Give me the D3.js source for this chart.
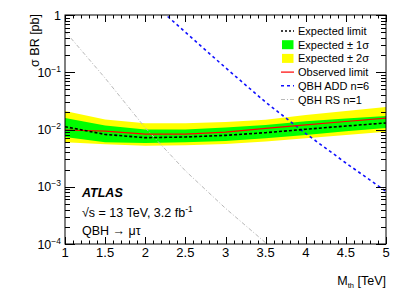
<!DOCTYPE html>
<html lang="en">
<head>
  <meta charset="UTF-8">
  <title>QBH mu tau limits</title>
  <style>
    body {
      margin: 0;
      background: #fff;
      font-family: "Liberation Sans", Arial, Helvetica, sans-serif;
    }
    svg text {
      fill: #000;
    }
  </style>
</head>
<body>
  <svg id="chart" width="407" height="292"></svg>

  <script src="https://d3js.org/d3.v7.min.js"></script>
  <script>
    // values (mass in TeV, sigma*BR in pb)
    const mass = [1, 1.5, 2, 2.5, 3, 3.5, 4, 4.5, 5];
    const expected = [0.0112, 0.0082, 0.0072, 0.0074, 0.0079, 0.0088, 0.0101, 0.0115, 0.0130];
    const observed = [0.0098, 0.0094, 0.0083, 0.0083, 0.0090, 0.0105, 0.0120, 0.0138, 0.0158];
    const sig1Up = [0.0159, 0.0118, 0.0100, 0.0100, 0.0108, 0.0120, 0.0140, 0.0155, 0.0172];
    const sig1Down = [0.0074, 0.0060, 0.0058, 0.0060, 0.0063, 0.0070, 0.0080, 0.0093, 0.0106];
    const sig2Up = [0.0210, 0.0150, 0.0128, 0.0128, 0.0135, 0.0148, 0.0180, 0.0210, 0.0247];
    const sig2Down = [0.0060, 0.0055, 0.0052, 0.0053, 0.0056, 0.0062, 0.0070, 0.0080, 0.0091];

    const addMass = [2, 2.5, 3, 3.5, 4, 4.5, 5];
    const addXsec = [2.1, 0.50, 0.12, 0.030, 0.0085, 0.0026, 0.00083];

    const rsMass = [1, 1.5, 2, 2.5, 3, 3.5, 4];
    const rsXsec = [0.52, 0.079, 0.0107, 0.0019, 0.00042, 0.000105, 0.00003];

    const xMajor = [1, 1.5, 2, 2.5, 3, 3.5, 4, 4.5, 5];
    const decades = [1e-4, 1e-3, 1e-2, 1e-1, 1];
    const decadeExp = [-4, -3, -2, -1, 0];

    const legendItems = [
      { label: "Expected limit", kind: "expected" },
      { label: "Expected \u00b1 1\u03c3", kind: "green" },
      { label: "Expected \u00b1 2\u03c3", kind: "yellow" },
      { label: "Observed limit", kind: "observed" },
      { label: "QBH ADD n=6", kind: "add" },
      { label: "QBH RS n=1", kind: "rs" }
    ];

    const padL = 65, padR = 386, padT = 15, padB = 244;
    const svg = d3.select("#chart");

    const x = d3.scaleLinear().domain([1, 5]).range([padL, padR]);
    const y = d3.scaleLog().domain([1e-4, 1]).range([padB, padT]);

    svg.append("defs").append("clipPath").attr("id", "plot-clip")
      .append("rect")
      .attr("x", padL).attr("y", padT)
      .attr("width", padR - padL).attr("height", padB - padT);

    const plot = svg.append("g").attr("clip-path", "url(#plot-clip)");

    const idx = d3.range(mass.length);

    const band = (lo, hi) => d3.area()
      .x(i => x(mass[i]))
      .y0(i => y(lo[i]))
      .y1(i => y(hi[i]));

    plot.append("path").datum(idx)
      .attr("d", band(sig2Down, sig2Up))
      .attr("fill", "#ffff00");

    plot.append("path").datum(idx)
      .attr("d", band(sig1Down, sig1Up))
      .attr("fill", "#00ff00");

    const line = (xs, ys) => d3.line()
      .x(i => x(xs[i]))
      .y(i => y(ys[i]));

    plot.append("path").datum(d3.range(rsMass.length))
      .attr("d", line(rsMass, rsXsec))
      .attr("fill", "none")
      .attr("stroke", "#b8b8b8")
      .attr("stroke-width", 1)
      .attr("stroke-dasharray", "4,2,1,2");

    plot.append("path").datum(d3.range(addMass.length))
      .attr("d", line(addMass, addXsec))
      .attr("fill", "none")
      .attr("stroke", "#1010ff")
      .attr("stroke-width", 1.6)
      .attr("stroke-dasharray", "3,3");

    plot.append("path").datum(idx)
      .attr("d", line(mass, observed))
      .attr("fill", "none")
      .attr("stroke", "#ff0000")
      .attr("stroke-width", 1.2);

    plot.append("path").datum(idx)
      .attr("d", line(mass, expected))
      .attr("fill", "none")
      .attr("stroke", "#000")
      .attr("stroke-width", 1.6)
      .attr("stroke-dasharray", "3,2");

    // frame
    svg.append("rect")
      .attr("x", padL).attr("y", padT)
      .attr("width", padR - padL).attr("height", padB - padT)
      .attr("fill", "none")
      .attr("stroke", "#000")
      .attr("stroke-width", 1);

    // ticks pointing inward, on all four sides
    const xMinor = d3.range(1, 5.0001, 0.1).map(v => +v.toFixed(1))
      .filter(v => !xMajor.some(m => Math.abs(m - v) < 1e-6));
    const yMinor = [];
    decades.slice(0, -1).forEach(d => {
      for (let k = 2; k <= 9; k++) yMinor.push(d * k);
    });

    const ticks = svg.append("g").attr("stroke", "#000").attr("stroke-width", 1);

    function xTicks(vals, len) {
      vals.forEach(v => {
        const px = Math.round(x(v)) + 0.5;
        ticks.append("line").attr("x1", px).attr("x2", px).attr("y1", padB).attr("y2", padB - len);
        ticks.append("line").attr("x1", px).attr("x2", px).attr("y1", padT).attr("y2", padT + len);
      });
    }
    function yTicks(vals, len) {
      vals.forEach(v => {
        const py = Math.round(y(v)) + 0.5;
        ticks.append("line").attr("y1", py).attr("y2", py).attr("x1", padL).attr("x2", padL + len);
        ticks.append("line").attr("y1", py).attr("y2", py).attr("x1", padR).attr("x2", padR - len);
      });
    }
    xTicks(xMajor, 7);
    xTicks(xMinor, 3.5);
    yTicks(decades, 10);
    yTicks(yMinor, 5);

    // x tick labels
    svg.append("g").selectAll("text")
      .data(xMajor)
      .join("text")
      .attr("x", d => x(d))
      .attr("y", 257)
      .attr("text-anchor", "middle")
      .attr("font-size", 13)
      .text(d => d);

    // y tick labels: 10^n
    const yLab = svg.append("g").selectAll("text")
      .data(decades)
      .join("text")
      .attr("x", 61)
      .attr("y", d => y(d) + 4.5)
      .attr("text-anchor", "end")
      .attr("font-size", 12.5);

    yLab.each(function (d, i) {
      const t = d3.select(this);
      const e = decadeExp[i];
      if (e === 0) {
        t.text("1");
      } else {
        t.append("tspan").text("10");
        t.append("tspan").attr("dy", -5).attr("font-size", 8.5).text("\u2212" + (-e));
      }
    });

    // axis titles
    const xt = svg.append("text")
      .attr("x", padR)
      .attr("y", 285)
      .attr("text-anchor", "end")
      .attr("font-size", 12.5);
    xt.append("tspan").text("M");
    xt.append("tspan").attr("dy", 3).attr("font-size", 7.5).text("th");
    xt.append("tspan").attr("dy", -3).text(" [TeV]");

    svg.append("text")
      .attr("transform", `translate(39,${padT - 1}) rotate(-90)`)
      .attr("text-anchor", "end")
      .attr("font-size", 12.5)
      .text("\u03c3 BR [pb]");

    // ATLAS labels
    svg.append("text")
      .attr("x", 82).attr("y", 197)
      .attr("font-size", 12.5)
      .attr("font-weight", "bold")
      .attr("font-style", "italic")
      .text("ATLAS");

    const lumi = svg.append("text")
      .attr("x", 82).attr("y", 217)
      .attr("font-size", 12.5);
    lumi.append("tspan").text("\u221as = 13 TeV, 3.2 fb");
    lumi.append("tspan").attr("dy", -5).attr("font-size", 8.5).text("-1");

    svg.append("text")
      .attr("x", 82).attr("y", 235)
      .attr("font-size", 12.5)
      .text("QBH \u2192 \u03bc\u03c4");

    // legend
    const leg = svg.append("g");
    legendItems.forEach((item, i) => {
      const cy = 31 + i * 13.7;
      const g = leg.append("g");
      if (item.kind === "green" || item.kind === "yellow") {
        g.append("rect")
          .attr("x", 282).attr("y", cy - 4.5)
          .attr("width", 11.5).attr("height", 9)
          .attr("fill", item.kind === "green" ? "#00ff00" : "#ffff00");
      } else {
        const styles = {
          expected: { c: "#000", w: 1.5, d: "2,2" },
          observed: { c: "#ff0000", w: 1.2, d: null },
          add: { c: "#1010ff", w: 1.6, d: "3,3" },
          rs: { c: "#b8b8b8", w: 1, d: "4,2,1,2" }
        }[item.kind];
        g.append("line")
          .attr("x1", 281).attr("x2", 294)
          .attr("y1", cy).attr("y2", cy)
          .attr("stroke", styles.c)
          .attr("stroke-width", styles.w)
          .attr("stroke-dasharray", styles.d);
      }
      g.append("text")
        .attr("x", 298).attr("y", cy + 4)
        .attr("font-size", 11)
        .text(item.label);
    });
  </script>
</body>
</html>
